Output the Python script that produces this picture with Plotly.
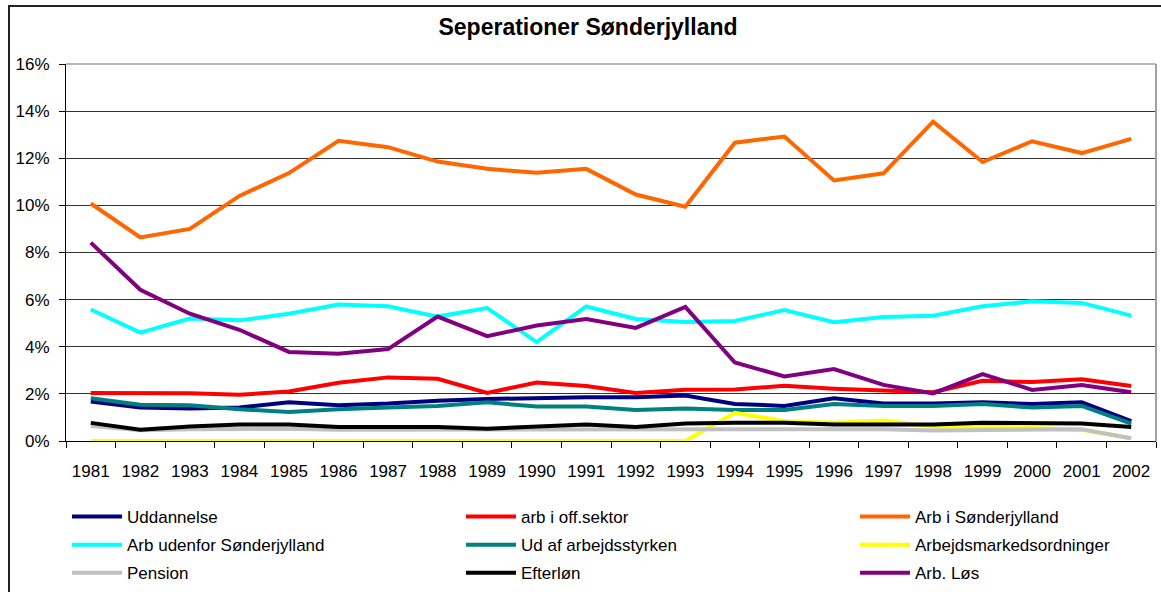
import plotly.graph_objects as go

years = [str(y) for y in range(1981, 2003)]

uddannelse = [1.68, 1.42, 1.38, 1.42, 1.64, 1.52, 1.59, 1.71, 1.78, 1.83, 1.86,
              1.86, 1.93, 1.57, 1.49, 1.81, 1.59, 1.59, 1.64, 1.57, 1.64, 0.84]
arb_off = [2.04, 2.03, 2.03, 1.96, 2.10, 2.47, 2.70, 2.64, 2.04, 2.48, 2.33,
           2.04, 2.17, 2.19, 2.34, 2.22, 2.14, 2.07, 2.56, 2.50, 2.62, 2.33]
arb_sj = [10.08, 8.64, 9.00, 10.40, 11.37, 12.74, 12.47, 11.86, 11.55, 11.38, 11.55,
          10.46, 9.94, 12.66, 12.92, 11.06, 11.36, 13.55, 11.84, 12.72, 12.22, 12.82]
arb_udenfor = [5.58, 4.60, 5.20, 5.12, 5.40, 5.79, 5.72, 5.28, 5.64, 4.20, 5.71,
               5.18, 5.05, 5.09, 5.56, 5.04, 5.26, 5.32, 5.72, 5.93, 5.86, 5.32]
ud_af = [1.81, 1.54, 1.52, 1.35, 1.23, 1.35, 1.42, 1.49, 1.64, 1.46, 1.46,
         1.32, 1.38, 1.32, 1.32, 1.57, 1.49, 1.49, 1.57, 1.42, 1.49, 0.74]
arbm_ord = [0.0, 0.0, 0.0, 0.0, 0.0, 0.0, 0.0, 0.0, 0.0, 0.0, 0.0,
            0.0, 0.0, 1.20, 0.84, 0.77, 0.87, 0.62, 0.62, 0.55, 0.48, 0.12]
pension = [0.64, 0.46, 0.50, 0.52, 0.52, 0.48, 0.48, 0.47, 0.46, 0.48, 0.50,
           0.48, 0.49, 0.50, 0.46, 0.48, 0.50, 0.45, 0.46, 0.46, 0.50, 0.12]
efterloen = [0.77, 0.48, 0.62, 0.70, 0.70, 0.59, 0.59, 0.59, 0.52, 0.62, 0.70,
             0.59, 0.74, 0.77, 0.77, 0.70, 0.70, 0.70, 0.77, 0.77, 0.74, 0.59]
arb_loes = [8.42, 6.42, 5.40, 4.72, 3.78, 3.70, 3.90, 5.28, 4.45, 4.90, 5.18,
            4.80, 5.69, 3.33, 2.74, 3.05, 2.38, 2.02, 2.84, 2.17, 2.38, 2.07]

# (name, values, colour, legend column)
series = [
    ("Uddannelse", uddannelse, "#000080", "legend"),
    ("arb i off.sektor", arb_off, "#FF0000", "legend2"),
    ("Arb i Sønderjylland", arb_sj, "#FF6600", "legend3"),
    ("Arb udenfor Sønderjylland", arb_udenfor, "#00FFFF", "legend"),
    ("Ud af arbejdsstyrken", ud_af, "#008080", "legend2"),
    ("Arbejdsmarkedsordninger", arbm_ord, "#FFFF00", "legend3"),
    ("Pension", pension, "#C0C0C0", "legend"),
    ("Efterløn", efterloen, "#000000", "legend2"),
    ("Arb. Løs", arb_loes, "#800080", "legend3"),
]

fig = go.Figure()
for name, vals, col, leg in series:
    fig.add_trace(go.Scatter(x=years, y=vals, name=name, mode="lines",
                             legend=leg, legendgroup=name,
                             line=dict(color=col, width=4)))

W, H = 1161, 592
L, R, T, B = 66, 5, 64, 151
pw = W - L - R
ph = H - T - B

def px(x):
    return (x - L) / pw

def py(y):
    return (H - B - y) / ph

def leg(xpix):
    return dict(orientation="v", x=px(xpix), xanchor="left", y=py(499), yanchor="top",
                itemwidth=50, font=dict(size=17), bgcolor="rgba(0,0,0,0)",
                tracegroupgap=3, traceorder="grouped")

fig.update_layout(
    width=W, height=H,
    margin=dict(l=L, r=R, t=T, b=B, autoexpand=False),
    paper_bgcolor="white", plot_bgcolor="white",
    font=dict(family="Liberation Sans, Arial, sans-serif", size=17, color="black"),
    title=dict(text="<b>Seperationer Sønderjylland</b>", xref="container",
               x=588 / W, xanchor="center",
               y=1 - 27 / H, yanchor="middle", font=dict(size=23, color="black")),
    showlegend=True,
    legend=leg(67),
    legend2=leg(461),
    legend3=leg(855),
    xaxis=dict(type="category", range=[-0.5, len(years) - 0.5], showgrid=False,
               showline=True, linecolor="black",
               linewidth=1, ticks="outside", ticklen=6, tickcolor="black",
               tickson="boundaries", zeroline=False, ticklabelstandoff=15),
    yaxis=dict(range=[0, 16], dtick=2, ticksuffix="%", showgrid=True,
               gridcolor="#333333", gridwidth=1, showline=True, linecolor="black",
               linewidth=1, ticks="outside", ticklen=6, tickcolor="black",
               zeroline=False, ticklabelstandoff=6),
    shapes=[
        dict(type="rect", xref="paper", yref="paper", x0=px(9), x1=px(1175),
             y0=py(620), y1=py(6), line=dict(color="#222222", width=2), layer="below"),
        dict(type="line", xref="paper", yref="paper", x0=0, x1=1, y0=1, y1=1,
             line=dict(color="#a0a0a0", width=1.5)),
        dict(type="line", xref="paper", yref="paper", x0=1, x1=1, y0=0, y1=1,
             line=dict(color="#a0a0a0", width=2)),
    ],
)

fig.write_html("out.html", config={"displayModeBar": False},
               post_script="document.body.style.margin='0px';document.body.style.overflow='hidden';")
